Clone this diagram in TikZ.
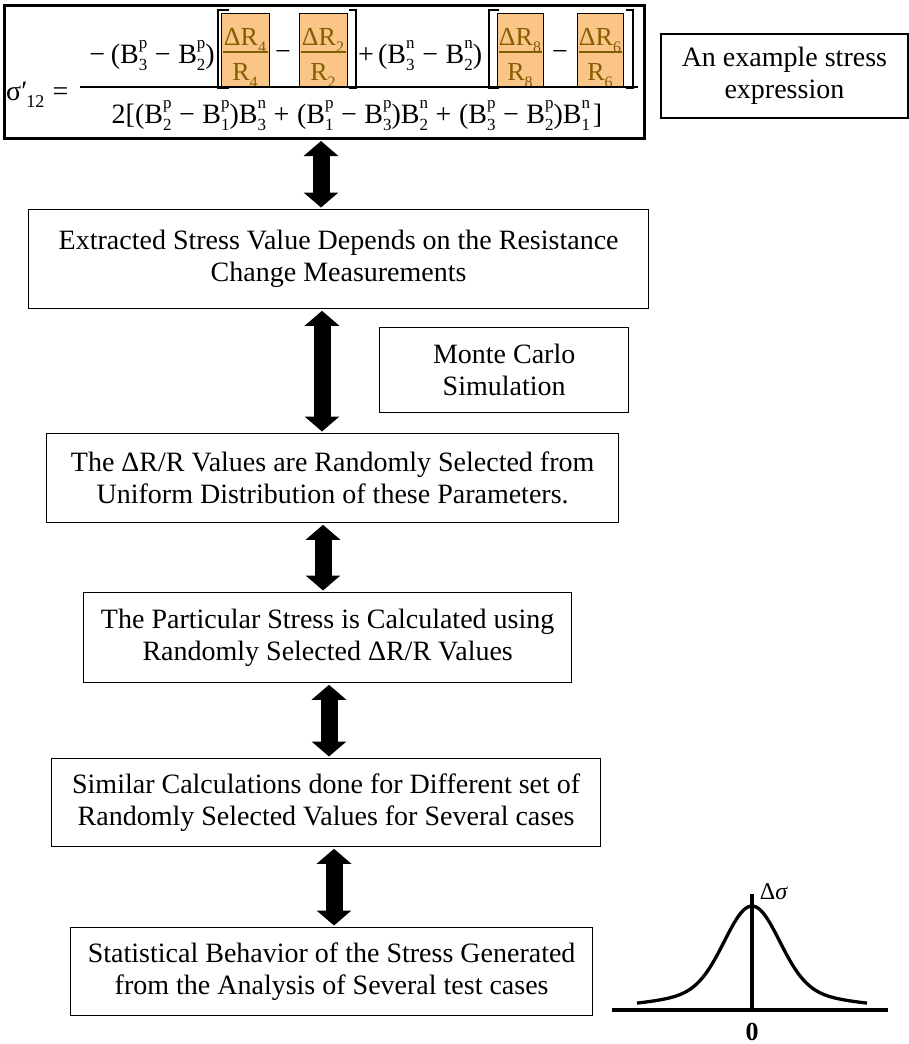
\documentclass[tikz,border=0pt]{standalone}
\usepackage{fontspec}
\setmainfont{Liberation Serif}
\usetikzlibrary{arrows.meta}
\definecolor{ofill}{RGB}{250,197,135}
\definecolor{otext}{RGB}{128,96,0}
\newcommand{\Bsp}[2]{B\makebox[0pt][l]{\raisebox{0.52em}{\fontsize{17}{17}\selectfont #2}}\raisebox{-0.28em}{\fontsize{17}{17}\selectfont #1}}
\newcommand{\opm}[1]{\hspace{0.27em}#1\hspace{0.27em}}
\newcommand{\sbs}[1]{\raisebox{-0.28em}{\fontsize{16}{16}\selectfont #1}}
\begin{document}
\begin{tikzpicture}[x=1pt,y=-1pt,
  box/.style={draw, line width=1.3pt, anchor=north west, inner sep=0pt, align=center, font=\fontsize{28}{32}\selectfont},
  obox/.style={draw, line width=1pt, fill=ofill, anchor=north west, inner sep=0pt},
  dblarrow/.style={line width=17pt, {Triangle[width=34pt,length=15pt]}-{Triangle[width=34pt,length=15pt]}, shorten <=1.5pt, shorten >=1.5pt},
  ftext/.style={inner sep=0pt, font=\fontsize{28}{28}\selectfont},
  otx/.style={anchor=base, inner sep=0pt, text=otext, font=\fontsize{26}{26}\selectfont},
  brk/.style={line width=1.4pt},
  fbar/.style={line width=1.3pt},
  curve/.style={line width=3.3pt}]
\useasboundingbox (0,0) rectangle (909,1044);

% formula frame
\node[draw, line width=2.5pt, anchor=north west, inner sep=0pt, minimum width=640pt, minimum height=133pt] (F) at (3,4) {};
% orange boxes
\node[obox, minimum width=48pt, minimum height=74pt] (O1) at (221,13) {};
\node[obox, minimum width=48pt, minimum height=74pt] (O2) at (299,13) {};
\node[obox, minimum width=46pt, minimum height=74pt] (O3) at (497,13) {};
\node[obox, minimum width=46pt, minimum height=74pt] (O4) at (577,13) {};
% contents of orange boxes
\node[otx] (n1) at (245,45) {ΔR\sbs{4}};
\node[otx] (d1) at (245,80) {R\sbs{4}};
\node[otx] (n2) at (323,45) {ΔR\sbs{2}};
\node[otx] (d2) at (323,80) {R\sbs{2}};
\node[otx] (n3) at (520,45) {ΔR\sbs{8}};
\node[otx] (d3) at (520,80) {R\sbs{8}};
\node[otx] (n4) at (600,45) {ΔR\sbs{6}};
\node[otx] (d4) at (600,80) {R\sbs{6}};
\draw[fbar, otext] (223,52) -- (268,52);
\draw[fbar, otext] (301,52) -- (346,52);
\draw[fbar, otext] (499,52) -- (542,52);
\draw[fbar, otext] (579,52) -- (622,52);
% brackets
\draw[brk] (229,10) -- (218,10) -- (218,88) -- (229,88);
\draw[brk] (349,10) -- (356,10) -- (356,88) -- (349,88);
\draw[brk] (499,10) -- (489,10) -- (489,88) -- (499,88);
\draw[brk] (626,10) -- (633,10) -- (633,88) -- (626,88);
% numerator
\node[ftext, anchor=base east] (N1) at (215,63) {−\hspace{0.2em}(\Bsp{3}{p}\opm{−}\Bsp{2}{p})};
\node[ftext, anchor=base] (m1) at (283,60) {−};
\node[ftext, anchor=base west] (N2) at (358,63) {+\hspace{0.15em}(\Bsp{3}{n}\opm{−}\Bsp{2}{n})};
\node[ftext, anchor=base] (m2) at (560,60) {−};
% main fraction bar
\draw[fbar] (80,87) -- (638,87);
% left side
\node[ftext, anchor=base west] (S) at (6,100) {σ′\kern-0.04em\raisebox{-0.28em}{\fontsize{18}{18}\selectfont 12}\hspace{0.3em}=};
% denominator
\node[ftext, anchor=base] (D) at (357,123) {2[(\Bsp{2}{p}\opm{−}\Bsp{1}{p})\Bsp{3}{n}\opm{+}(\Bsp{1}{p}\opm{−}\Bsp{3}{p})\Bsp{2}{n}\opm{+}(\Bsp{3}{p}\opm{−}\Bsp{2}{p})\Bsp{1}{n}\hspace{0.1em}]};

% side note
\node[box, line width=1.8pt, minimum width=247pt, minimum height=84pt] (E) at (660,33) {An example stress\\expression};

% flow boxes
\node[box, minimum width=620pt, minimum height=99pt] (B2) at (28,209) {Extracted Stress Value Depends on the Resistance\\Change Measurements};
\node[box, minimum width=249pt, minimum height=85pt] (MC) at (379,327) {Monte Carlo\\Simulation};
\node[box, minimum width=572pt, minimum height=89pt] (B3) at (46,433) {The ΔR/R Values are Randomly Selected from\\Uniform Distribution of these Parameters.};
\node[box, minimum width=488pt, minimum height=90pt] (B4) at (83,592) {The Particular Stress is Calculated using\\Randomly Selected ΔR/R Values};
\node[box, minimum width=549pt, minimum height=88pt] (B5) at (51,758) {Similar Calculations done for Different set of\\Randomly Selected Values for Several cases};
\node[box, minimum width=522pt, minimum height=88pt] (B6) at (70,927) {Statistical Behavior of the Stress Generated\\from the Analysis of Several test cases};

% arrows
\coordinate (a1) at (321,0);
\coordinate (a2) at (322,0);
\coordinate (a3) at (323,0);
\coordinate (a4) at (329,0);
\coordinate (a5) at (334,0);
\draw[dblarrow] (F.south -| a1) -- (B2.north -| a1);
\draw[dblarrow] (B2.south -| a2) -- (B3.north -| a2);
\draw[dblarrow] (B3.south -| a3) -- (B4.north -| a3);
\draw[dblarrow] (B4.south -| a4) -- (B5.north -| a4);
\draw[dblarrow] (B5.south -| a5) -- (B6.north -| a5);

% distribution sketch
\coordinate (axL) at (612,1010);
\coordinate (axR) at (888,1010);
\coordinate (vB) at (752,1010);
\coordinate (vT) at (752,894);
\draw[curve] (axL) -- (axR);
\draw[curve] (vB) -- (vT);
\draw[curve, smooth, samples=90, domain=637:867] plot (\x, {1010 - (80*exp(-((\x-752)/38)^2) + 24/cosh((\x-752)/60))});
\node[inner sep=0pt, font=\fontsize{24}{24}\selectfont] (ds) at (774,892) {Δ\textit{σ}};
\node[inner sep=0pt, anchor=base, font=\bfseries\fontsize{26}{26}\selectfont] (zero) at (752,1040) {0};
\end{tikzpicture}
\end{document}
